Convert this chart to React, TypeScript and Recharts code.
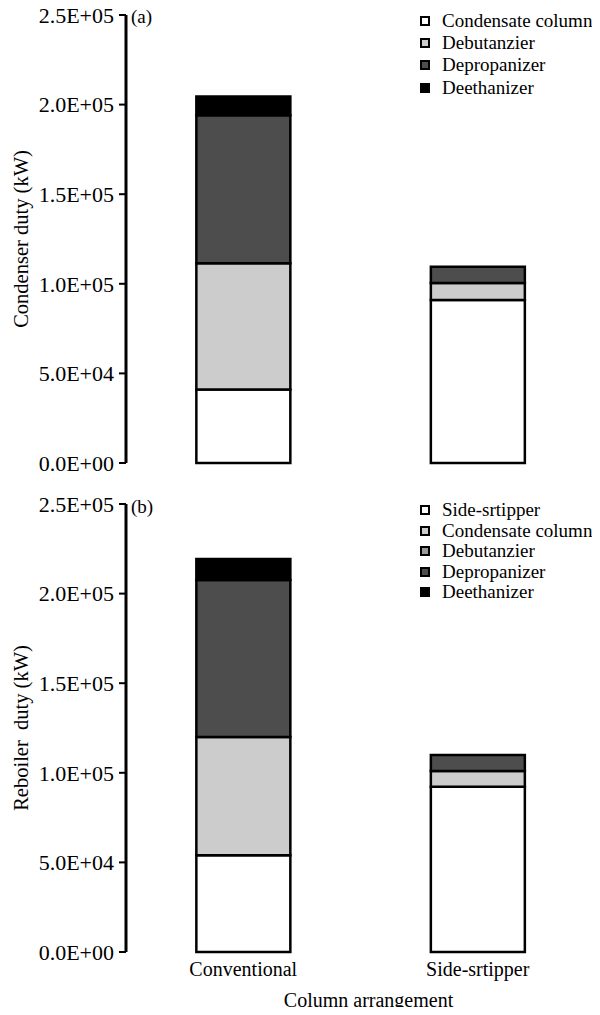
import React from 'react';
import { BarChart, Bar, XAxis, YAxis, Legend } from 'recharts';

const categories = ['Conventional', 'Side-srtipper'];

// Condenser duty (kW), panel (a)
const condenserCondensate = [41000, 91000];
const condenserDebutanizer = [70500, 9500];
const condenserDepropanizer = [82500, 9000];
const condenserDeethanizer = [10500, 0];

// Reboiler duty (kW), panel (b)
const reboilerSeg1 = [54000, 92200];
const reboilerSeg2 = [66000, 8800];
const reboilerSeg3 = [87600, 9000];
const reboilerSeg4 = [11700, 0];

const yTicks = [0, 50000, 100000, 150000, 200000, 250000];
const edgeTicks = [0, 1, 2];

const legendA = ['Condensate column', 'Debutanzier', 'Depropanizer', 'Deethanizer'];
const legendAColors = ['#ffffff', '#cccccc', '#4d4d4d', '#000000'];
const legendB = ['Side-srtipper', 'Condensate column', 'Debutanzier', 'Depropanizer', 'Deethanizer'];
const legendBColors = ['#ffffff', '#cccccc', '#999999', '#4d4d4d', '#000000'];
const segmentColors = ['#ffffff', '#cccccc', '#4d4d4d', '#000000'];

const FONT = 'Liberation Serif';

const condenserData = categories.map((name, i) => ({
  name,
  s0: condenserCondensate[i],
  s1: condenserDebutanizer[i],
  s2: condenserDepropanizer[i],
  s3: condenserDeethanizer[i],
}));

const reboilerData = categories.map((name, i) => ({
  name,
  s0: reboilerSeg1[i],
  s1: reboilerSeg2[i],
  s2: reboilerSeg3[i],
  s3: reboilerSeg4[i],
}));

const fmt = (v: number) => {
  if (v === 0) return '0.0E+00';
  const e = Math.floor(Math.log10(v) + 1e-9);
  const m = v / Math.pow(10, e);
  return `${m.toFixed(1)}E+${String(e).padStart(2, '0')}`;
};

const YLabel = (props: any) => {
  const vb = props.viewBox || {};
  const x = (vb.x || 0) + 21;
  const y = (vb.y || 0) + (vb.height || 0) / 2;
  return (
    <text
      x={x}
      y={y}
      transform={`rotate(-90, ${x}, ${y})`}
      textAnchor="middle"
      dominantBaseline="central"
      fontFamily={FONT}
      fontSize={20.5}
      fill="#000"
      style={{ whiteSpace: 'pre' }}
    >
      {props.text}
    </text>
  );
};

const XLabel = (props: any) => {
  const vb = props.viewBox || {};
  const x = (vb.x || 0) + (vb.width || 0) / 2 + 8;
  const y = (vb.y || 0) + 55;
  return (
    <text x={x} y={y} textAnchor="middle" fontFamily={FONT} fontSize={20} fill="#000">
      {props.text}
    </text>
  );
};

const LegendBox = ({ names, colors, rowH }: { names: string[]; colors: string[]; rowH: number }) => (
  <div style={{ fontFamily: '"Liberation Serif"', fontSize: 19, color: '#000' }}>
    {names.map((n, i) => (
      <div key={n} style={{ display: 'flex', alignItems: 'center', height: rowH, whiteSpace: 'nowrap' }}>
        <span
          style={{
            display: 'inline-block',
            width: 10,
            height: 10,
            boxSizing: 'border-box',
            border: '2px solid #000',
            background: colors[i],
            marginRight: 12,
          }}
        />
        <span>{n}</span>
      </div>
    ))}
  </div>
);

type ChartProps = {
  data: any[];
  height: number;
  marginTop: number;
  marginBottom: number;
  yLabel: string;
  legendNames: string[];
  legendColors: string[];
  legendTop: number;
  legendRowH: number;
  showCategories: boolean;
};

const DutyChart = ({
  data,
  height,
  marginTop,
  marginBottom,
  yLabel,
  legendNames,
  legendColors,
  legendTop,
  legendRowH,
  showCategories,
}: ChartProps) => (
  <BarChart
    width={600}
    height={height}
    data={data}
    margin={{ top: marginTop, right: 5, bottom: marginBottom, left: 0 }}
    barCategoryGap="30%"
  >
    <XAxis
      xAxisId="edge"
      type="number"
      domain={[0, 2]}
      ticks={edgeTicks}
      tickFormatter={() => ''}
      height={0}
      axisLine={{ stroke: '#000', strokeWidth: 2 }}
      tickLine={{ stroke: '#000', strokeWidth: 2 }}
      tickSize={7}
    />
    <XAxis
      xAxisId="cat"
      dataKey="name"
      hide={!showCategories}
      height={63}
      axisLine={false}
      tickLine={false}
      tickSize={0}
      tickMargin={10}
      tick={{ fill: '#000', fontSize: 20, fontFamily: FONT }}
      label={showCategories ? <XLabel text="Column arrangement" /> : undefined}
    />
    <YAxis
      type="number"
      domain={[0, 250000]}
      ticks={yTicks}
      width={126}
      tickFormatter={fmt}
      tick={{ fill: '#000', fontSize: 22, fontFamily: FONT }}
      tickLine={{ stroke: '#000', strokeWidth: 2 }}
      tickSize={7}
      tickMargin={5}
      axisLine={{ stroke: '#000', strokeWidth: 3 }}
      label={<YLabel text={yLabel} />}
    />
    <Legend
      layout="horizontal"
      verticalAlign="middle"
      align="center"
      wrapperStyle={{ top: legendTop, left: 420, width: 'auto' }}
      content={() => <LegendBox names={legendNames} colors={legendColors} rowH={legendRowH} />}
    />
    {['s0', 's1', 's2', 's3'].map((k, i) => (
      <Bar
        key={k}
        xAxisId="cat"
        dataKey={k}
        stackId="a"
        fill={segmentColors[i]}
        stroke="#000"
        strokeWidth={2.5}
        isAnimationActive={false}
      />
    ))}
  </BarChart>
);

const panelLabelStyle: React.CSSProperties = {
  position: 'absolute',
  left: 131,
  fontFamily: '"Liberation Serif"',
  fontSize: 19,
  lineHeight: '22px',
};

export default function App() {
  return (
    <div style={{ margin: -8, width: 600, height: 1015, position: 'relative', background: '#fff' }}>
      <div style={{ position: 'absolute', left: 0, top: 0 }}>
        <DutyChart
          data={condenserData}
          height={485}
          marginTop={15}
          marginBottom={22}
          yLabel="Condenser duty (kW)"
          legendNames={legendA}
          legendColors={legendAColors}
          legendTop={9.5}
          legendRowH={22.3}
          showCategories={false}
        />
      </div>
      <div style={{ ...panelLabelStyle, top: 6 }}>(a)</div>
      <div style={{ position: 'absolute', left: 0, top: 485 }}>
        <DutyChart
          data={reboilerData}
          height={530}
          marginTop={19}
          marginBottom={0}
          yLabel="Reboiler  duty (kW)"
          legendNames={legendB}
          legendColors={legendBColors}
          legendTop={14.7}
          legendRowH={20.6}
          showCategories={true}
        />
      </div>
      <div style={{ ...panelLabelStyle, top: 496 }}>(b)</div>
    </div>
  );
}
